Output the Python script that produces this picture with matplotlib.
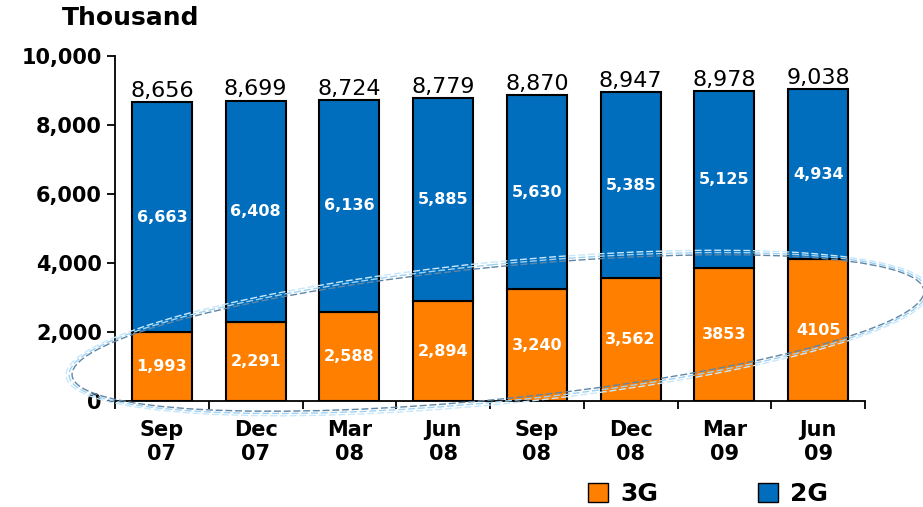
import matplotlib.pyplot as plt
from matplotlib.patches import Ellipse, Patch
from matplotlib.ticker import FuncFormatter

# Subscribers per quarter (thousand)
quarters = ['Sep\n07', 'Dec\n07', 'Mar\n08', 'Jun\n08', 'Sep\n08', 'Dec\n08', 'Mar\n09', 'Jun\n09']
subs_3g = [1993, 2291, 2588, 2894, 3240, 3562, 3853, 4105]
subs_2g = [6663, 6408, 6136, 5885, 5630, 5385, 5125, 4934]
totals = [8656, 8699, 8724, 8779, 8870, 8947, 8978, 9038]
labels_3g = ['1,993', '2,291', '2,588', '2,894', '3,240', '3,562', '3853', '4105']
labels_2g = ['6,663', '6,408', '6,136', '5,885', '5,630', '5,385', '5,125', '4,934']

orange = '#FF7F00'
blue = '#006EBD'

fig = plt.figure(figsize=(9.23, 5.07), dpi=100)
ax = fig.add_axes([0.1246, 0.2091, 0.8126, 0.6805])

x = list(range(len(quarters)))
ax.bar(x, subs_3g, width=0.64, color=orange, edgecolor='black', linewidth=1.5, label='3G')
ax.bar(x, subs_2g, width=0.64, bottom=subs_3g, color=blue, edgecolor='black', linewidth=1.5, label='2G')

for i in x:
    ax.text(i, subs_3g[i] / 2, labels_3g[i], ha='center', va='center',
            color='white', fontsize=11.5, fontweight='bold')
    ax.text(i, subs_3g[i] + subs_2g[i] / 2, labels_2g[i], ha='center', va='center',
            color='white', fontsize=11.5, fontweight='bold')
    ax.text(i, totals[i] + 40, f'{totals[i]:,}', ha='center', va='bottom',
            color='black', fontsize=16)

ax.set_xlim(-0.5, len(quarters) - 0.5)
ax.set_ylim(0, 10000)
ax.set_yticks(range(0, 10001, 2000))
ax.yaxis.set_major_formatter(FuncFormatter(lambda v, p: f'{int(v):,}'))
ax.set_xticks(x)
ax.set_xticklabels(quarters)
ax.set_xticks([i - 0.5 for i in range(len(quarters) + 1)], minor=True)
ax.tick_params(axis='x', which='major', length=0, pad=14, labelsize=15)
ax.tick_params(axis='x', which='minor', length=6, width=1.3)
ax.tick_params(axis='y', length=6, width=1.3, labelsize=15)
for lab in ax.get_xticklabels() + ax.get_yticklabels():
    lab.set_fontweight('bold')
for s in ['top', 'right']:
    ax.spines[s].set_visible(False)
ax.spines['left'].set_linewidth(1.3)
ax.spines['bottom'].set_linewidth(1.3)

fig.text(62 / 923, 1 - 18 / 507, 'Thousand', fontsize=18, fontweight='bold', va='center')

handles = [Patch(facecolor=orange, edgecolor='black', label='3G'),
           Patch(facecolor=blue, edgecolor='black', label='2G')]
fig.legend(handles=handles, loc='center', bbox_to_anchor=(708 / 923, 1 - 494 / 507),
           ncol=2, frameon=False, handlelength=0.8, handleheight=0.8,
           columnspacing=4.0, handletextpad=0.5, prop={'weight': 'bold', 'size': 18})

# dashed highlight ellipse around the 3G part
ov = fig.add_axes([0, 0, 1, 1], facecolor='none')
ov.set_xlim(0, 923)
ov.set_ylim(507, 0)
ov.axis('off')
for da, db, col in [(6, 5, '#C8E8FA'), (3, 2.5, '#9FD2F2'), (0, 0, '#5F86A6')]:
    ov.add_patch(Ellipse((498, 333), 2 * (428 + da), 2 * (66 + db), angle=-5.7,
                         fill=False, edgecolor=col, linestyle=(0, (5, 2)), linewidth=1.0))

fig.savefig('out.png', dpi=100)
